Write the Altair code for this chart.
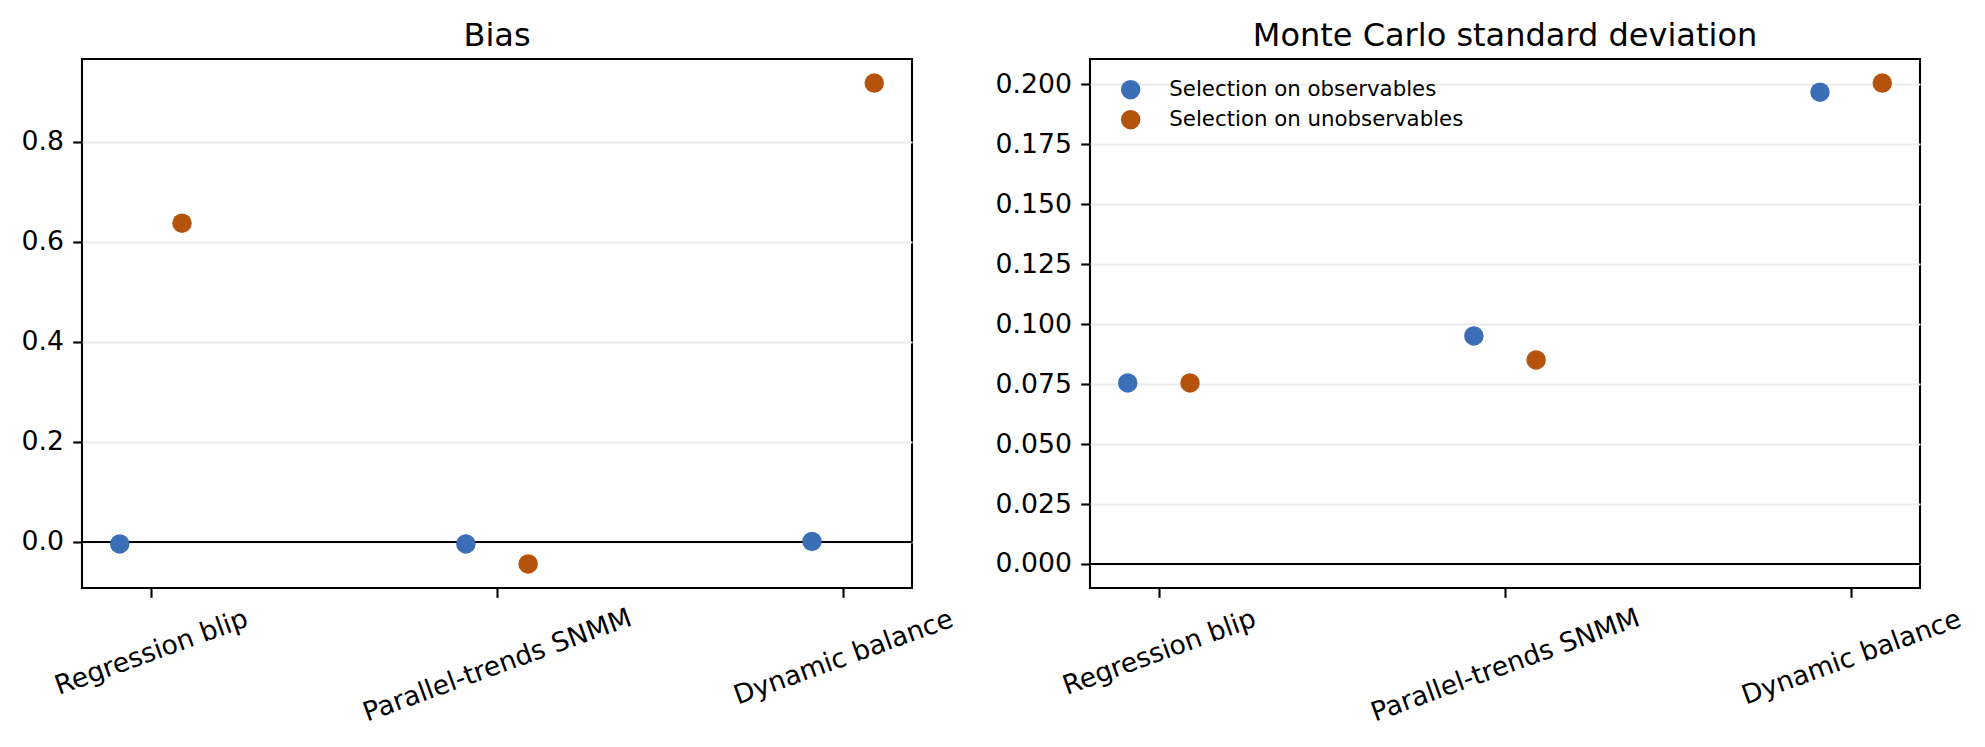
import json
import altair as alt
import pandas as pd

# ---- data ----
methods = ["Regression blip", "Parallel-trends SNMM", "Dynamic balance"]
series = ["Selection on observables", "Selection on unobservables"]
bias_obs = [-0.004, -0.004, 0.001]
bias_unobs = [0.637, -0.044, 0.917]
sd_obs = [0.0755, 0.0951, 0.1968]
sd_unobs = [0.0755, 0.0851, 0.2006]
bias_ticks = [0.0, 0.2, 0.4, 0.6, 0.8]
sd_ticks = [0.0, 0.025, 0.05, 0.075, 0.1, 0.125, 0.15, 0.175, 0.2]
colors = ["#3a6fb7", "#b5530c"]

FONT = "DejaVu Sans"
W, H = 830, 529
DODGE = 0.09


def make_df(obs, unobs):
    rows = []
    for i, m in enumerate(methods):
        rows.append({"idx": i, "method": m, "series": series[0], "value": obs[i], "shift": -1})
        rows.append({"idx": i, "method": m, "series": series[1], "value": unobs[i], "shift": 1})
    return pd.DataFrame(rows)


def padded(vals):
    lo, hi = min(min(vals), 0.0), max(max(vals), 0.0)
    p = 0.05 * (hi - lo)
    return [lo - p, hi + p]


label_expr = json.dumps(methods) + "[datum.value]"
x_lo, x_hi = -DODGE - 0.05 * (2 + 2 * DODGE), 2 + DODGE + 0.05 * (2 + 2 * DODGE)

x_axis = alt.Axis(
    values=[0, 1, 2],
    labelExpr=label_expr,
    title=None,
    grid=False,
    domain=False,
    labelAngle=340,
    labelAlign="center",
    labelBaseline="middle",
    labelPadding={
        "condition": [
            {"test": "datum.value == 0", "value": 55},
            {"test": "datum.value == 1", "value": 68},
        ],
        "value": 60,
    },
    labelFont=FONT,
    labelFontSize=26.7,
    labelColor="black",
    labelOverlap=False,
    labelFlush=False,
    labelLimit=800,
    tickColor="black",
    tickWidth=2.1,
    tickSize=9.3,
)


def panel(obs, unobs, title, ticks, fmt, show_legend):
    df = make_df(obs, unobs)
    dom = padded(list(obs) + list(unobs))
    y_axis = alt.Axis(
        values=ticks,
        format=fmt,
        title=None,
        domain=False,
        grid=True,
        gridColor="#ebebeb",
        gridWidth=2,
        labelFont=FONT,
        labelFontSize=26.7,
        labelColor="black",
        labelPadding=9.3,
        labelOverlap=False,
        labelFlush=False,
        tickColor="black",
        tickWidth=2.1,
        tickSize=9.3,
    )
    base = alt.Chart(df)
    grid_layer = base.mark_point(opacity=0).encode(
        x=alt.X("xpos:Q", scale=alt.Scale(domain=[x_lo, x_hi], nice=False, zero=False), axis=x_axis),
        y=alt.Y("value:Q", scale=alt.Scale(domain=dom, nice=False, zero=False), axis=y_axis),
    ).transform_calculate(xpos=f"datum.idx + datum.shift * {DODGE}")
    zero = alt.Chart(pd.DataFrame({"z": [0.0]})).mark_rule(color="black", strokeWidth=2.1).encode(
        y=alt.Y("z:Q")
    )
    legend = (
        alt.Legend(
            title=None,
            orient="none",
            legendX=30,
            legendY=20,
            padding=0,
            symbolType="circle",
            symbolSize=380,
            symbolStrokeWidth=0,
            symbolOpacity=1,
            labelFont=FONT,
            labelFontSize=21.3,
            labelColor="black",
            labelOffset=28,
            rowPadding=8,
            labelLimit=600,
        )
        if show_legend
        else None
    )
    pts = base.mark_circle(size=380, opacity=1).encode(
        x=alt.X("xpos:Q"),
        y=alt.Y("value:Q"),
        color=alt.Color("series:N", scale=alt.Scale(domain=series, range=colors), legend=legend),
    ).transform_calculate(xpos=f"datum.idx + datum.shift * {DODGE}")
    return alt.layer(grid_layer, zero, pts).properties(
        width=W,
        height=H,
        title=alt.TitleParams(
            title, font=FONT, fontSize=32, fontWeight="normal", color="black",
            anchor="middle", baseline="alphabetic", offset=-19,
        ),
    )


left = panel(bias_obs, bias_unobs, "Bias", bias_ticks, ".1f", False)
right = panel(sd_obs, sd_unobs, "Monte Carlo standard deviation", sd_ticks, ".3f", True)

chart = (
    alt.hconcat(left, right, spacing=178, bounds="flush")
    .resolve_legend(color="independent")
    .properties(padding={"left": 11, "top": 10, "right": 5, "bottom": 5}, background="white")
    .configure_view(stroke="black", strokeWidth=2.1)
)

chart.save("out.html", embed_options={"renderer": "svg", "actions": False})
